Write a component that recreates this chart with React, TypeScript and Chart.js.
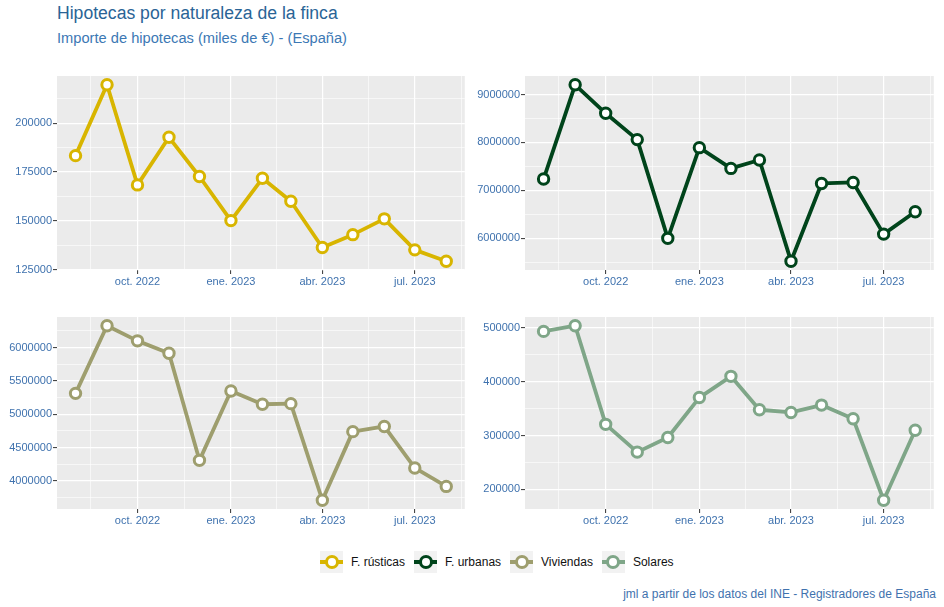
import React, { useEffect, useRef } from 'react';
import { Chart, registerables } from 'chart.js';

Chart.register(...registerables);

const FONT = '"Liberation Sans", Arial, Helvetica, sans-serif';

// ---- data ----
const months = [
  '2022-08', '2022-09', '2022-10', '2022-11', '2022-12', '2023-01', '2023-02',
  '2023-03', '2023-04', '2023-05', '2023-06', '2023-07', '2023-08',
];

const fRusticas = [183400, 219700, 168400, 192800, 172700, 150100, 171800, 160000, 136300, 142900, 151000, 135100, 129300];
const fUrbanas = [7236000, 9203000, 8609000, 8059000, 5998000, 7891000, 7458000, 7634000, 5521000, 7144000, 7165000, 6086000, 6552000];
const viviendas = [5312000, 6327000, 6100000, 5915000, 4307000, 5347000, 5149000, 5158000, 3708000, 4738000, 4816000, 4193000, 3916000];
const solares = [493200, 503700, 320700, 269200, 296300, 370400, 409800, 347800, 342800, 356400, 331200, 179800, 309700];

const seriesNames = ['F. rústicas', 'F. urbanas', 'Viviendas', 'Solares'];
const seriesColors = ['#D8B500', '#00441B', '#9E9E6E', '#7FA688'];

const xTickDates = ['2022-10-01', '2023-01-01', '2023-04-01', '2023-07-01'];
const xTickLabels = ['oct. 2022', 'ene. 2023', 'abr. 2023', 'jul. 2023'];
const xBreaksExtended = ['2022-07-01', '2022-10-01', '2023-01-01', '2023-04-01', '2023-07-01', '2023-10-01'];

const rusticasTicks = [125000, 150000, 175000, 200000];
const urbanasTicks = [6000000, 7000000, 8000000, 9000000];
const viviendasTicks = [4000000, 4500000, 5000000, 5500000, 6000000];
const solaresTicks = [200000, 300000, 400000, 500000];

const titleText = 'Hipotecas por naturaleza de la finca';
const subtitleText = 'Importe de hipotecas (miles de €) - (España)';
const captionText = 'jml a partir de los datos del INE - Registradores de España';

// ---- helpers ----
const day = (s: string) => {
  const [y, m, d] = s.split('-').map(Number);
  return Date.UTC(y, m - 1, d || 1) / 86400000;
};
const midpoints = (arr: number[]) => arr.slice(1).map((v, i) => (v + arr[i]) / 2);

const AXIS_COLOR = '#3F72AE';
const Y_AXIS_W = 57;
const X_AXIS_H = 26;
const PAD_T = 10;
const PAD_R = 6;

const bgPlugin = {
  id: 'panelBg',
  beforeDraw(chart: any) {
    const { ctx, chartArea: a } = chart;
    ctx.save();
    ctx.fillStyle = '#EBEBEB';
    ctx.fillRect(a.left, a.top, a.right - a.left, a.bottom - a.top);
    ctx.restore();
  },
};

type Box = { left: number; top: number; w: number; h: number };

function Panel({ values, color, majors, box }: { values: number[]; color: string; majors: number[]; box: Box }) {
  const ref = useRef<HTMLCanvasElement>(null);
  const cw = Y_AXIS_W + box.w + PAD_R;
  const ch = PAD_T + box.h + X_AXIS_H;

  useEffect(() => {
    const xs = months.map((m) => day(m + '-01'));
    const x0 = Math.min(...xs);
    const x1 = Math.max(...xs);
    const xp = (x1 - x0) * 0.05;
    const xMin = x0 - xp;
    const xMax = x1 + xp;
    const y0 = Math.min(...values);
    const y1 = Math.max(...values);
    const yp = (y1 - y0) * 0.05;
    const yMin = y0 - yp;
    const yMax = y1 + yp;

    const xMajors = xTickDates.map(day);
    const xMinors = midpoints(xBreaksExtended.map(day)).filter((v) => v >= xMin && v <= xMax);
    const step = majors[1] - majors[0];
    const yExt = [majors[0] - step, ...majors, majors[majors.length - 1] + step];
    const yMinors = midpoints(yExt).filter((v) => v >= yMin && v <= yMax);

    const xAll = [...xMinors, ...xMajors].sort((a, b) => a - b);
    const yAll = [...yMinors, ...majors].sort((a, b) => a - b);

    const isXMajor = (v: number) => xMajors.some((m) => Math.abs(m - v) < 1e-6);
    const isYMajor = (v: number) => majors.some((m) => Math.abs(m - v) < 1e-6);

    const chart = new Chart(ref.current as HTMLCanvasElement, {
      type: 'line',
      data: {
        datasets: [
          {
            data: xs.map((x, i) => ({ x, y: values[i] })),
            borderColor: color,
            borderWidth: 3.8,
            borderJoinStyle: 'round',
            pointRadius: 5.2,
            pointBorderWidth: 3,
            pointBackgroundColor: '#FFFFFF',
            pointBorderColor: color,
            tension: 0,
            fill: false,
          },
        ],
      },
      options: {
        animation: false,
        responsive: false,
        maintainAspectRatio: false,
        events: [],
        layout: { padding: { top: PAD_T, right: PAD_R, left: 0, bottom: 0 } },
        plugins: { legend: { display: false }, tooltip: { enabled: false } },
        scales: {
          x: {
            type: 'linear',
            min: xMin,
            max: xMax,
            afterBuildTicks: (s: any) => {
              s.ticks = xAll.map((v) => ({ value: v }));
            },
            afterFit: (s: any) => {
              s.height = X_AXIS_H;
              s.paddingLeft = 0;
              s.paddingRight = 0;
            },
            border: { display: false },
            grid: {
              color: '#FFFFFF',
              lineWidth: (c: any) => (isXMajor(c.tick.value) ? 1.2 : 0.6),
              drawTicks: true,
              tickLength: 4,
              tickWidth: 1,
              tickColor: (c: any) => (isXMajor(c.tick.value) ? '#333333' : 'rgba(0,0,0,0)'),
            },
            ticks: {
              autoSkip: false,
              maxRotation: 0,
              padding: 1,
              color: AXIS_COLOR,
              font: { family: FONT, size: 11 },
              callback: (v: any) => {
                const i = xMajors.findIndex((m) => Math.abs(m - Number(v)) < 1e-6);
                return i >= 0 ? xTickLabels[i] : '';
              },
            },
          },
          y: {
            type: 'linear',
            min: yMin,
            max: yMax,
            afterBuildTicks: (s: any) => {
              s.ticks = yAll.map((v) => ({ value: v }));
            },
            afterFit: (s: any) => {
              s.width = Y_AXIS_W;
              s.paddingTop = 0;
              s.paddingBottom = 0;
            },
            border: { display: false },
            grid: {
              color: '#FFFFFF',
              lineWidth: (c: any) => (isYMajor(c.tick.value) ? 1.2 : 0.6),
              drawTicks: true,
              tickLength: 4,
              tickWidth: 1,
              tickColor: (c: any) => (isYMajor(c.tick.value) ? '#333333' : 'rgba(0,0,0,0)'),
            },
            ticks: {
              autoSkip: false,
              padding: 1,
              color: AXIS_COLOR,
              font: { family: FONT, size: 11 },
              callback: (v: any) => (isYMajor(Number(v)) ? String(Math.round(Number(v))) : ''),
            },
          },
        },
      } as any,
      plugins: [bgPlugin],
    });
    return () => chart.destroy();
  }, []);

  return (
    <canvas
      ref={ref}
      width={cw}
      height={ch}
      style={{ position: 'absolute', left: box.left - Y_AXIS_W, top: box.top - PAD_T, width: cw, height: ch }}
    />
  );
}

function LegendKey({ color }: { color: string }) {
  return (
    <div style={{ position: 'relative', width: 23, height: 22, background: '#F2F2F2', flex: '0 0 auto' }}>
      <div style={{ position: 'absolute', left: 0, right: 0, top: 9, height: 4, background: color }} />
      <div
        style={{
          position: 'absolute',
          left: 4.5,
          top: 3.5,
          width: 8,
          height: 8,
          border: `3px solid ${color}`,
          borderRadius: '50%',
          background: '#FFFFFF',
        }}
      />
    </div>
  );
}

export default function App() {
  const panels: { values: number[]; majors: number[]; box: Box }[] = [
    { values: fRusticas, majors: rusticasTicks, box: { left: 57, top: 76, w: 410, h: 194 } },
    { values: fUrbanas, majors: urbanasTicks, box: { left: 525, top: 76, w: 411, h: 194 } },
    { values: viviendas, majors: viviendasTicks, box: { left: 57, top: 317, w: 410, h: 192 } },
    { values: solares, majors: solaresTicks, box: { left: 525, top: 317, w: 411, h: 192 } },
  ];
  return (
    <div style={{ position: 'absolute', left: 0, top: 0, width: 944, height: 607, background: '#FFFFFF', fontFamily: FONT, overflow: 'hidden' }}>
      <div style={{ position: 'absolute', left: 57, top: 5, fontSize: 17.6, lineHeight: 1, color: '#2A6496', whiteSpace: 'nowrap' }}>{titleText}</div>
      <div style={{ position: 'absolute', left: 57, top: 31, fontSize: 14.67, lineHeight: 1, color: '#3C78B4', whiteSpace: 'nowrap' }}>{subtitleText}</div>
      {panels.map((p, i) => (
        <Panel key={i} values={p.values} color={seriesColors[i]} majors={p.majors} box={p.box} />
      ))}
      <div style={{ position: 'absolute', left: 320, top: 551, height: 22, display: 'flex', alignItems: 'center' }}>
        {seriesNames.map((n, i) => (
          <div key={n} style={{ display: 'flex', alignItems: 'center', marginRight: 9 }}>
            <LegendKey color={seriesColors[i]} />
            <span style={{ marginLeft: 8, fontSize: 12, color: '#111111', whiteSpace: 'nowrap' }}>{n}</span>
          </div>
        ))}
      </div>
      <div style={{ position: 'absolute', right: 8, top: 588, fontSize: 12, lineHeight: 1, color: AXIS_COLOR, whiteSpace: 'nowrap' }}>{captionText}</div>
    </div>
  );
}
